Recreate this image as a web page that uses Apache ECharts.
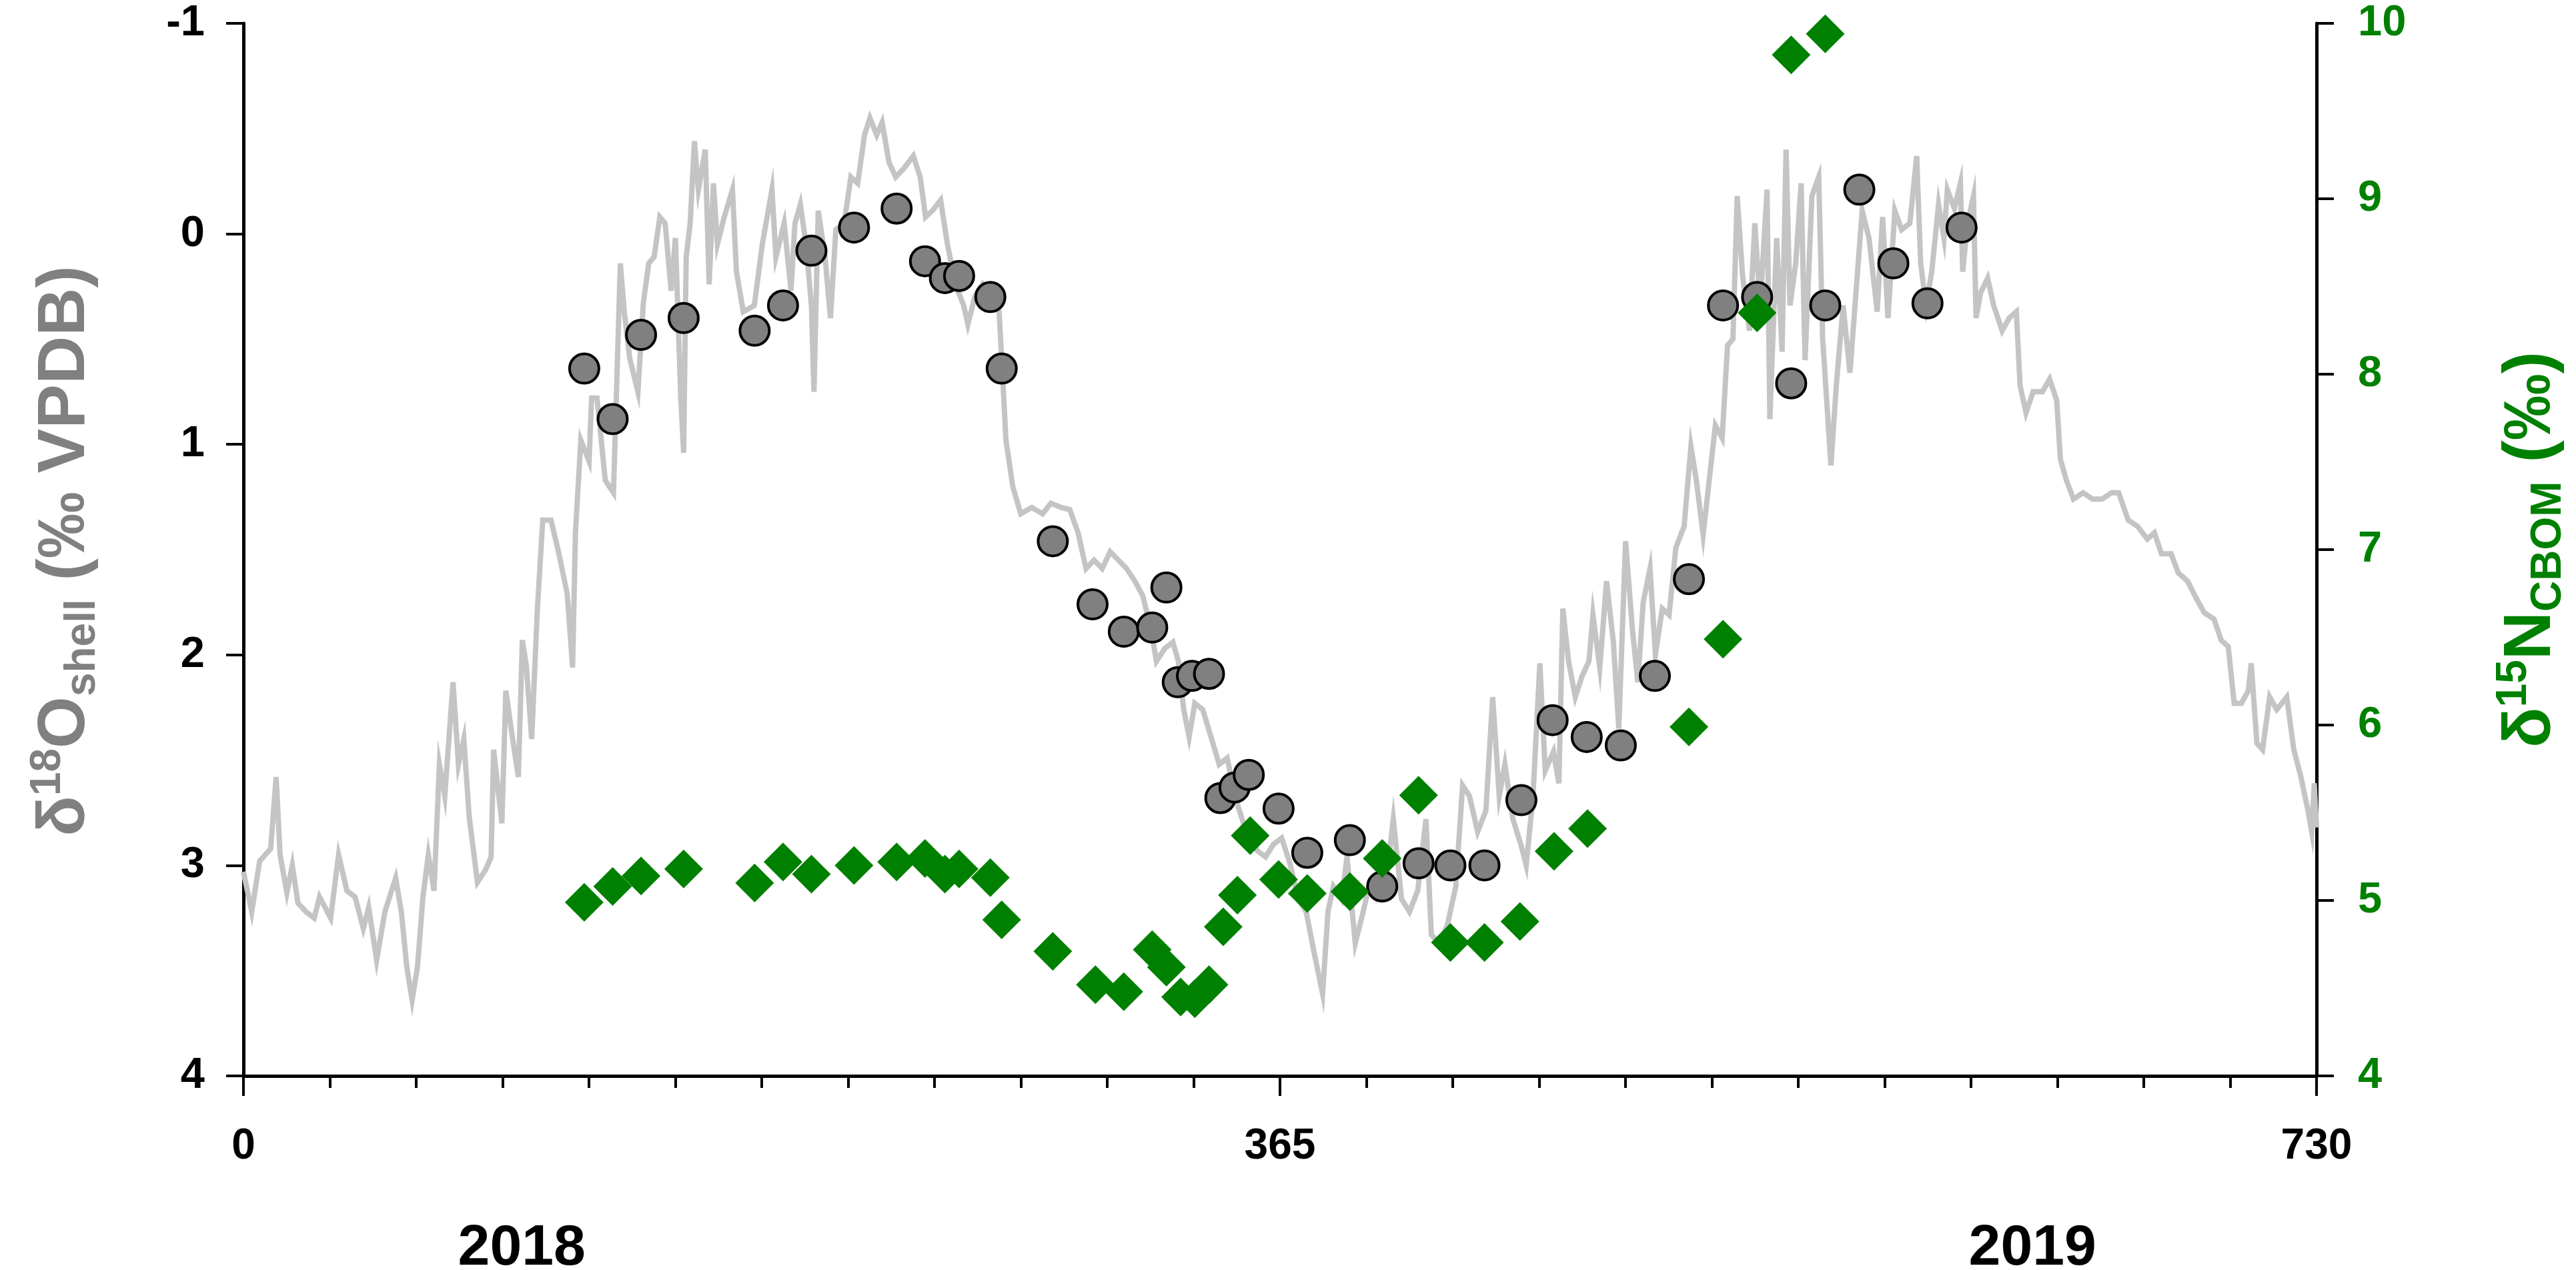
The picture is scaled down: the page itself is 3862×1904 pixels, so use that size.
<!DOCTYPE html>
<html><head><meta charset="utf-8">
<script src="https://cdn.jsdelivr.net/npm/echarts@6/dist/echarts.min.js"></script>
<style>html,body{margin:0;padding:0;background:#fff}#c{width:3862px;height:1904px}</style>
</head><body><div id="c"></div>
<script>
// ---- data ----
const xTickLabels = ['0', '365', '730'];
const yearLabels = ['2018', '2019'];
const yearCenters = [98, 630];

// daily modelled d18O (day, permil VPDB)
const dailyD18O = [
[0,3.03],[2.9,3.22],[5.7,2.98],[9.6,2.92],[11.5,2.58],[12.9,2.95],[15.3,3.13],[17.2,3.0],[19.2,3.18],[22,3.22],[24.9,3.25],[26.8,3.15],[30.7,3.25],[33.5,2.95],[36.4,3.12],[39.3,3.15],[42.2,3.3],[44.1,3.2],[46.9,3.45],[49.8,3.22],[53.6,3.06],[55.6,3.22],[57.5,3.48],[59.4,3.64],[61.3,3.48],[63.2,3.15],[65.1,2.95],[67.1,3.12],[69,2.52],[70.9,2.67],[73.8,2.13],[75.7,2.52],[77.6,2.4],[79.5,2.77],[82.4,3.08],[85.3,3.02],[87.2,2.96],[88.1,2.45],[91,2.8],[92.4,2.17],[94.8,2.4],[96.8,2.58],[98.2,1.93],[99.6,2.05],[101.5,2.4],[103.5,1.78],[105.4,1.36],[108.3,1.36],[111.1,1.52],[114,1.71],[115.9,2.06],[116.9,1.42],[118.8,0.98],[121.7,1.08],[122.6,0.78],[124.5,0.78],[127.4,1.17],[130.3,1.23],[132.7,0.14],[134.1,0.37],[136,0.59],[138.9,0.75],[140.8,0.33],[142.7,0.14],[144.6,0.11],[146.6,-0.08],[148.5,-0.05],
[150.6,0.27],[152.1,0.02],[154,0.78],[155,1.04],[155.9,0.11],[157.3,-0.05],[158.8,-0.44],[160.2,-0.21],[162.6,-0.4],[164,0.24],[165.5,-0.24],[166.9,0.05],[169.3,-0.08],[172.2,-0.21],[173.6,0.18],[176,0.37],[179.9,0.34],[182.7,0.05],[186.1,-0.21],[187.5,0.11],[190.4,-0.05],[192.8,0.27],[194.2,-0.05],[196.1,-0.14],[198.1,0.05],[200,0.34],[200.9,0.75],[202.4,-0.11],[204.8,0.11],[206.7,0.4],[208.6,-0.02],[211.5,-0.05],[213.9,-0.27],[216.3,-0.24],[218.7,-0.47],[220.6,-0.55],[223,-0.47],[224.9,-0.53],[227.3,-0.34],[229.7,-0.27],[232.5,-0.31],[235.9,-0.37],[238.3,-0.27],[240.2,-0.08],[242.6,-0.11],[245.5,-0.16],[247.9,0.05],[250.7,0.24],[253.6,0.34],[255.1,0.43],[257.5,0.30],[260.3,0.24],[263.7,0.30],[266.1,0.37],[267.5,0.72],[268.5,0.98],[270.9,1.2],[273.7,1.33],[277.6,1.3],[281.4,1.33],[284.3,1.28],[288.1,1.3],[291,1.31],[293.9,1.42],[296.7,1.59],
[299.5,1.55],[302.4,1.59],[305.2,1.51],[308.1,1.55],[311,1.59],[313.9,1.65],[316.7,1.72],[319.6,1.88],[321.5,2.03],[324.4,1.97],[327.3,1.94],[329.2,2.03],[331.1,2.26],[333,2.39],[335,2.23],[337.8,2.26],[340.7,2.39],[343.6,2.52],[346.4,2.49],[349.3,2.68],[353.1,2.84],[357,2.93],[359.9,2.96],[362.7,2.9],[365.6,2.87],[368.5,2.99],[371.4,3.16],[374.2,3.22],[377.1,3.42],[380,3.61],[381.9,3.22],[383.8,3.1],[386.7,3.16],[388.6,2.96],[391.5,3.37],[394.3,3.22],[396.3,3.1],[399.1,3.16],[402,3.12],[404.9,2.78],[407.8,3.16],[410.6,3.22],[413.5,3.12],[416.4,2.78],[418.3,3.33],[421.2,3.37],[424,3.28],[426.9,3.1],[429.3,2.62],[431.7,2.67],[434.6,2.84],[437.5,2.74],[439.9,2.2],[442.2,2.67],[444.2,2.52],[447,2.78],
[449.8,2.9],[451.7,3.0],[454.1,2.67],[456.5,2.04],[458.4,2.55],[461.3,2.46],[463.2,2.61],[464.6,1.78],[466.6,2.03],[469,2.2],[471.4,2.1],[473.8,2.03],[475.2,1.81],[477.6,2.06],[480,1.65],[482.4,1.94],[484.3,2.35],[486.7,1.46],[489.1,1.88],[491,2.13],[492.9,1.75],[495.3,1.59],[497.2,2.0],[499.6,1.78],[502,1.81],[504.4,1.49],[507.3,1.39],[509.7,1.01],[511.6,1.17],[514,1.43],[515.9,1.2],[518.3,0.91],[520.7,0.97],[522.6,0.53],[524.5,0.5],[526,-0.18],[527.9,0.2],[530.3,0.46],[532.2,-0.05],[534.1,0.34],[536.5,-0.21],[537.5,0.88],[539.9,0.02],[541.8,0.56],[543.2,-0.4],[544.6,0.34],[546.6,0.14],[548.5,-0.24],[549.9,0.6],[552.3,-0.18],[554.7,-0.27],[556.1,0.5],[559,1.1],[560.9,0.72],[563.3,0.34],[565.7,0.66],[568.6,0.14],[570,-0.11],[572.4,0.02],[575.3,0.37],[577.2,-0.08],[579.1,0.4],[581.5,-0.11],[583.9,-0.02],[586.8,-0.05],[589.2,-0.37],[590.6,0.14],[592.5,0.34],[594.5,0.18],[596.9,-0.14],[598.8,0.02],
[600,-0.21],[602.5,-0.12],[604.6,-0.24],[605.4,0.18],[607.1,-0.05],[609.2,-0.18],[610.1,0.4],[611.7,0.28],[614.2,0.21],[616.3,0.34],[619.3,0.46],[621.8,0.4],[624.3,0.37],[625.6,0.72],[627.7,0.85],[630.2,0.75],[633.5,0.75],[636,0.69],[638.5,0.79],[639.8,1.07],[641.9,1.17],[644.4,1.26],[647.8,1.23],[651.1,1.26],[654.5,1.26],[657.8,1.23],[660.3,1.23],[663.7,1.36],[667,1.39],[670.4,1.45],[672.9,1.42],[675.4,1.52],[678.8,1.52],[681.3,1.61],[684.6,1.65],[688,1.74],[690.5,1.8],[693.9,1.83],[696.4,1.93],[698.9,1.96],[701,2.23],[703.5,2.23],[706,2.17],[707,2.04],[709,2.42],[711,2.45],[713.5,2.2],[716,2.26],[719.5,2.2],[722,2.45],[724.5,2.58],[727,2.74],[728.3,2.84],[729.2,2.61],[730,2.82]
];

// measured shell d18O
const shellDays = [120,130,140,155,180,190,200,215,230,240,247,252,263,267,285,299,310,320,325,329,334,340,344,349,354,364.5,374.6,389.6,401,413.8,425,437,450,461,473,485,497,509,521,533,545,557,569,581,593,605];
const shellD18O = [0.64,0.88,0.48,0.40,0.46,0.34,0.08,-0.03,-0.12,0.13,0.21,0.20,0.30,0.64,1.46,1.76,1.89,1.87,1.68,2.13,2.10,2.09,2.68,2.63,2.57,2.73,2.94,2.88,3.10,2.99,3.0,3.0,2.69,2.31,2.39,2.43,2.10,1.64,0.34,0.30,0.71,0.34,-0.21,0.14,0.33,-0.03];

// d15N of CBOM
const nDays = [120,130,140,155,180,190,200,215,230,240,247,252,263,267,285,300,310,320,325,330,335,340,345,350,354.5,364.5,374.6,389.6,401,413.8,425,437,449.5,461.5,473.3,509,521,533,545,557];
const nD15N = [4.99,5.08,5.14,5.18,5.10,5.22,5.15,5.20,5.22,5.24,5.15,5.18,5.13,4.89,4.71,4.52,4.48,4.72,4.62,4.45,4.44,4.52,4.85,5.03,5.37,5.12,5.04,5.05,5.24,5.6,4.76,4.76,4.88,5.28,5.41,5.99,6.49,8.35,9.82,9.94];

// ---- chart ----
const FONT = '"Liberation Sans", Arial, Helvetica, sans-serif';
const GREEN = '#008000';
const GREY_T = '#808080';
const chart = echarts.init(document.getElementById('c'), null, {renderer: 'canvas'});

const titleRich = (color) => ({
  a: {fontSize: 100, fontWeight: 'bold', fontFamily: FONT, fill: color, lineHeight: 116, verticalAlign: 'middle'},
  s: {fontSize: 64, fontWeight: 'bold', fontFamily: FONT, fill: color, lineHeight: 64, verticalAlign: 'top'},
  b: {fontSize: 64, fontWeight: 'bold', fontFamily: FONT, fill: color, lineHeight: 64, verticalAlign: 'bottom'}
});

const option = {
  animation: false,
  backgroundColor: '#ffffff',
  grid: {left: 365, right: 389, top: 35, bottom: 291, containLabel: false},
  xAxis: {
    type: 'value', min: 0, max: 730, interval: 365,
    axisLine: {onZero: false, lineStyle: {color: '#000', width: 5}},
    axisTick: {show: true, length: 30, lineStyle: {color: '#000', width: 4}},
    minorTick: {show: true, splitNumber: 12, length: 18, lineStyle: {color: '#000', width: 4}},
    splitLine: {show: false},
    axisLabel: {
      margin: 74, fontSize: 64, fontWeight: 'bold', color: '#000', fontFamily: FONT,
      formatter: (v) => xTickLabels[Math.round(v / 365)]
    }
  },
  yAxis: [
    {
      type: 'value', inverse: true, min: -1, max: 4, interval: 1, position: 'left',
      axisLine: {show: true, onZero: false, lineStyle: {color: '#000', width: 5}},
      axisTick: {show: true, length: 26, lineStyle: {color: '#000', width: 4}},
      splitLine: {show: false},
      axisLabel: {margin: 58, fontSize: 65, fontWeight: 'bold', color: '#000', fontFamily: FONT}
    },
    {
      type: 'value', min: 4, max: 10, interval: 1, position: 'right',
      axisLine: {show: true, onZero: false, lineStyle: {color: '#000', width: 5}},
      axisTick: {show: true, length: 26, lineStyle: {color: '#000', width: 4}},
      splitLine: {show: false},
      axisLabel: {margin: 62, fontSize: 65, fontWeight: 'bold', color: GREEN, fontFamily: FONT}
    }
  ],
  series: [
    {
      type: 'line', xAxisIndex: 0, yAxisIndex: 0, data: dailyD18O,
      showSymbol: false, symbol: 'none',
      lineStyle: {color: '#c4c4c4', width: 8, join: 'miter'}, z: 2
    },
    {
      type: 'scatter', xAxisIndex: 0, yAxisIndex: 0,
      data: shellDays.map((d, i) => [d, shellD18O[i]]),
      symbol: 'circle', symbolSize: 44,
      itemStyle: {color: '#808080', borderColor: '#000', borderWidth: 4, opacity: 1}, z: 3
    },
    {
      type: 'scatter', xAxisIndex: 0, yAxisIndex: 1,
      data: nDays.map((d, i) => [d, nD15N[i]]),
      symbol: 'diamond', symbolSize: 58,
      itemStyle: {color: GREEN, opacity: 1}, z: 4
    }
  ],
  graphic: [
    {
      type: 'text', x: 98, y: 826, rotation: Math.PI / 2,
      style: {
        text: '{a|δ}{s|18}{a|O}{b|shell}{a| (‰ VPDB)}',
        rich: titleRich(GREY_T), textAlign: 'center', textVerticalAlign: 'middle'
      }
    },
    {
      type: 'text', x: 3795, y: 824, rotation: Math.PI / 2,
      style: {
        text: '{a|δ}{s|15}{a|N}{b|CBOM}{a| (‰)}',
        rich: titleRich(GREEN), textAlign: 'center', textVerticalAlign: 'middle'
      }
    }
  ]
};
chart.setOption(option);

// year labels placed at data positions along the x axis
const yPix = 1872;
const yearGraphics = yearLabels.map((t, i) => ({
  type: 'text',
  x: chart.convertToPixel({xAxisIndex: 0}, yearCenters[i]),
  y: yPix,
  style: {text: t, fontSize: 86, fontWeight: 'bold', fontFamily: FONT, fill: '#000', textAlign: 'center', textVerticalAlign: 'middle'}
}));
chart.setOption({graphic: option.graphic.concat(yearGraphics)});
</script>
</body></html>
